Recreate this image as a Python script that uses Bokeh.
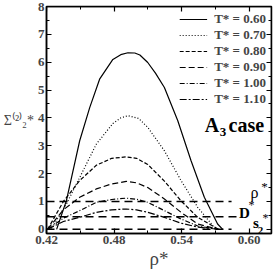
from bokeh.plotting import figure
from bokeh.models import Label, LinearAxis, FixedTicker, Range1d, PrintfTickFormatter
from bokeh.embed import file_html
from bokeh.resources import INLINE

FONT = "Liberation Serif"

# ---- data ----
temps = ["0.60", "0.70", "0.80", "0.90", "1.00", "1.10"]
dashes = ["solid", "1 2", "4 2", "6 3", "5 2 1 2", "7 2 2 2"]

rho_060 = [0.429, 0.4377, 0.4495, 0.4584, 0.4672, 0.479, 0.486, 0.4924, 0.4985, 0.503, 0.510, 0.517, 0.5248, 0.5367, 0.5485, 0.5603, 0.5721, 0.5766]
sig_060 = [0.0, 1.03, 3.18, 4.37, 5.39, 6.10, 6.27, 6.34, 6.33, 6.26, 5.99, 5.60, 5.09, 3.90, 2.46, 1.15, 0.19, 0.0]

rho_070 = [0.424, 0.4377, 0.4495, 0.4643, 0.479, 0.486, 0.4924, 0.502, 0.510, 0.5248, 0.5396, 0.5544, 0.5691, 0.572]
sig_070 = [0.0, 0.91, 1.86, 3.06, 3.80, 4.00, 4.08, 3.98, 3.66, 2.82, 1.75, 0.79, 0.07, 0.0]

rho_080 = [0.421, 0.435, 0.4495, 0.4643, 0.478, 0.4909, 0.500, 0.510, 0.5248, 0.5396, 0.5544, 0.573]
sig_080 = [0.0, 1.00, 1.75, 2.30, 2.55, 2.60, 2.55, 2.33, 1.73, 1.02, 0.43, 0.0]

rho_090 = [0.421, 0.435, 0.4495, 0.4643, 0.478, 0.4909, 0.500, 0.510, 0.5248, 0.5396, 0.5544, 0.573]
sig_090 = [0.0, 0.70, 1.15, 1.45, 1.63, 1.72, 1.67, 1.50, 1.09, 0.61, 0.19, 0.0]

rho_100 = [0.421, 0.435, 0.4495, 0.4643, 0.478, 0.4909, 0.500, 0.510, 0.5248, 0.5396, 0.5544, 0.573]
sig_100 = [0.0, 0.40, 0.67, 0.97, 1.07, 1.12, 1.08, 0.97, 0.67, 0.37, 0.12, 0.0]

rho_110 = [0.421, 0.435, 0.4495, 0.4643, 0.478, 0.4909, 0.500, 0.510, 0.5248, 0.5396, 0.5544, 0.573]
sig_110 = [0.0, 0.28, 0.43, 0.61, 0.70, 0.73, 0.70, 0.61, 0.43, 0.22, 0.08, 0.0]

curves_rho = [rho_060, rho_070, rho_080, rho_090, rho_100, rho_110]
curves_sig = [sig_060, sig_070, sig_080, sig_090, sig_100, sig_110]

# horizontal reference levels
ref_levels = [1.0, 0.45, 0.0]
ref_start = [0.42, 0.42, 0.42]
ref_end = [0.5845, 0.589, 0.5845]

x_lo, x_hi = 0.42, 0.62
y_lo, y_hi = -0.15, 8.0
x_ticks = [0.42, 0.48, 0.54, 0.60]
x_minor = [0.45, 0.51, 0.57]
y_ticks = [0, 1, 2, 3, 4, 5, 6, 7, 8]
y_minor = [0.5, 1.5, 2.5, 3.5, 4.5, 5.5, 6.5, 7.5]

p = figure(frame_width=225, frame_height=227, output_backend="svg", toolbar_location=None,
           x_range=Range1d(x_lo, x_hi), y_range=Range1d(y_lo, y_hi),
           min_border_left=45, min_border_right=3, min_border_top=6, min_border_bottom=40)
p.grid.visible = False
p.outline_line_color = "black"
p.outline_line_width = 1.5
p.background_fill_color = "white"

for r, s, t, d in zip(curves_rho, curves_sig, temps, dashes):
    p.line(r, s, line_color="black", line_width=1.2, line_dash=d, legend_label=f"T* = {t}")

for lv, a, b in zip(ref_levels, ref_start, ref_end):
    p.line([a, b], [lv, lv], line_color="black", line_width=1.6, line_dash="8 5")

def style_axis(ax, labels=True):
    ax.axis_line_width = 1.5
    ax.major_tick_in = 5
    ax.major_tick_out = 0
    ax.minor_tick_in = 3
    ax.minor_tick_out = 0
    ax.major_tick_line_width = 1.2
    ax.minor_tick_line_width = 1.0
    ax.major_label_text_font = FONT
    ax.major_label_text_font_style = "bold"
    ax.major_label_text_font_size = "13px" if labels else "0px"
    ax.major_label_standoff = 2 if labels else 0
    ax.axis_label_text_font = FONT
    ax.axis_label_text_font_style = "normal"
    if not labels:
        ax.axis_label_standoff = 0

xt = FixedTicker(ticks=x_ticks, minor_ticks=x_minor)
yt = FixedTicker(ticks=y_ticks, minor_ticks=y_minor)
p.xaxis.ticker = xt
p.yaxis.ticker = yt
p.xaxis.formatter = PrintfTickFormatter(format="%.2f")
for ax in p.xaxis + p.yaxis:
    style_axis(ax)

p.xaxis.axis_label = "ρ*"
p.xaxis.axis_label_text_font_size = "19px"
p.xaxis.axis_label_standoff = 1

p.yaxis.axis_label = "Σ⁽²⁾₂*"
p.yaxis.axis_label_text_font_size = "14px"
p.yaxis.axis_label_orientation = "horizontal"
p.yaxis.axis_label_standoff = 1

# top / right axes drawn on the frame edges (ticks only)
top = LinearAxis(ticker=FixedTicker(ticks=x_ticks, minor_ticks=x_minor),
                 major_label_overrides={t: "" for t in x_ticks}, fixed_location=y_hi)
right = LinearAxis(ticker=FixedTicker(ticks=y_ticks, minor_ticks=y_minor),
                   major_label_overrides={t: "" for t in y_ticks}, fixed_location=x_hi)
style_axis(top, labels=False)
style_axis(right, labels=False)
p.add_layout(top, "above")
p.add_layout(right, "right")

# legend
lg = p.legend[0]
lg.location = "top_right"
lg.border_line_color = None
lg.background_fill_alpha = 0
lg.label_text_font = FONT
lg.label_text_font_style = "bold"
lg.label_text_font_size = "13px"
lg.glyph_width = 28
lg.glyph_height = 12
lg.label_height = 12
lg.spacing = 0
lg.padding = 0
lg.margin = 5
lg.label_standoff = 7

def lab(x, y, txt, size, bold=False, align="center"):
    p.add_layout(Label(x=x, y=y, text=txt, text_font=FONT, text_font_size=size,
                       text_font_style="bold" if bold else "normal",
                       text_align=align, text_baseline="middle", text_color="black"))

# A3 case
lab(0.5671, 3.755, "A", "20px", bold=True)
lab(0.5769, 3.50, "3", "13px", bold=True)
lab(0.5818, 3.755, "case", "20px", bold=True, align="left")

# reference line labels
lab(0.6049, 1.32, "ρ", "16px")
lab(0.6138, 1.53, "*", "13px")
lab(0.5960, 0.60, "D", "15px", bold=True)
lab(0.6022, 0.89, "*", "12px")
lab(0.6062, 0.24, "s", "15px", bold=True)
lab(0.6102, -0.04, "2", "11px", bold=True)
lab(0.6147, 0.42, "*", "12px")

open("out.html", "w").write(file_html(p, INLINE))
